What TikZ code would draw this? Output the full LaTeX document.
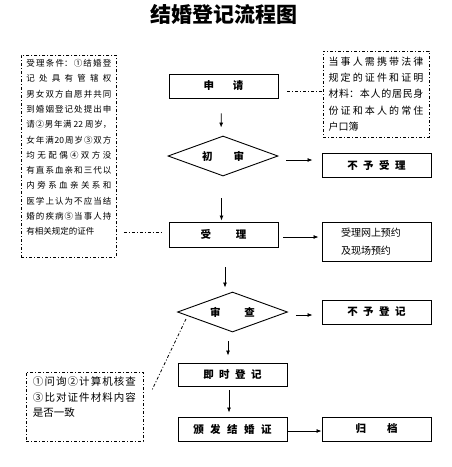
\documentclass[tikz,border=0pt]{standalone}
\usepackage{fontspec}
\setmainfont{Noto Sans CJK SC}
\usetikzlibrary{shapes.geometric,arrows.meta}
\XeTeXlinebreaklocale "zh"
\XeTeXlinebreakskip=0pt plus 6pt
\newcommand{\gp}{\hspace{5.5pt}}
\tikzset{
  box/.style={draw, line width=0.9pt, minimum width=109pt, minimum height=24pt, inner sep=0pt, font=\bfseries\fontsize{10.5}{12}\selectfont},
  dia/.style={draw, diamond, aspect=2.7, line width=0.9pt, minimum width=110pt, minimum height=40pt, inner sep=0pt, font=\bfseries\fontsize{10.5}{12}\selectfont},
  ddline/.style={line width=0.8pt, dash pattern=on 3pt off 2pt on 1pt off 2pt},
  note/.style={draw, ddline},
  arr/.style={-{Latex[length=5pt,width=4pt]}, line width=0.8pt},
}
\begin{document}
\begin{tikzpicture}[x=1pt,y=-1pt]
\useasboundingbox (0,0) rectangle (451,467);
\node[font=\bfseries\fontsize{21}{24}\selectfont] (title) at (224,14.5) {结婚登记流程图};

\node[note, anchor=north west, inner xsep=5pt, inner ysep=0pt] (lbox) at (21,55)
 {\parbox[c][202pt][t]{85pt}{\vspace{4pt}\fontsize{8.5}{15.3}\selectfont
 受理条件：①结婚登\linebreak
 记处具有管辖权\linebreak
 男女双方自愿并共同\linebreak
 到婚姻登记处提出申\linebreak
 请②男年满 22 周岁，\linebreak
 女年满20周岁③双方\linebreak
 均无配偶 ④双方没\linebreak
 有直系血亲和三代以\linebreak
 内旁系血亲关系和\linebreak
 医学上认为不应当结\linebreak
 婚的疾病⑤当事人持\linebreak
 有相关规定的证件}};

\node[note, minimum width=106pt, minimum height=86pt, inner xsep=5.5pt, text width=95pt, align=justify, font=\fontsize{10}{16.3}\selectfont] (rtbox) at (376,94)
 {当事人需携带法律\linebreak 规定的证件和证明\linebreak 材料：本人的居民身\linebreak 份证和本人的常住\linebreak 户口簿};

\node[box] (apply) at (223.5,86) {申\hspace{19pt}请};
\node[dia] (chushen) at (223,156) {初\hspace{21pt}审};
\node[box] (bslb1) at (376.5,165) {不\gp 予\gp 受\gp 理};
\node[box, minimum height=25pt] (accept) at (223.5,234.5) {受\hspace{25pt}理};
\node[box, minimum height=39pt, font=\fontsize{10}{18}\selectfont, text width=71pt, align=left] (yuyue) at (376.5,241.5) {受理网上预约\\及现场预约};
\node[dia] (shencha) at (232.5,312) {审\hspace{24pt}查};
\node[box] (bydj) at (376.5,312) {不\gp 予\gp 登\gp 记};
\node[box, minimum height=23pt] (jsdj) at (232.5,374.5) {即\gp 时\gp 登\gp 记};
\node[box] (bf) at (232.5,429) {颁\hspace{6.5pt}发\hspace{6.5pt}结\hspace{6.5pt}婚\hspace{6.5pt}证};
\node[box] (gd) at (376.5,429) {归\hspace{21pt}档};

\node[note, inner xsep=7pt, inner ysep=0pt] (lbbox) at (84.5,406.5)
 {\parbox[c][69pt][t]{103pt}{\vspace{5pt}\fontsize{10.5}{15.5}\selectfont
 ①问询②计算机核查\linebreak
 ③比对证件材料内容\linebreak
 是否一致}};

\coordinate (d1) at (186,319);
\coordinate (d2) at (152,390);

\draw[arr, shorten <=15pt, shorten >=8pt] ([xshift=-2pt]apply.south) -- ([xshift=-2pt]chushen.north);
\draw[arr, shorten <=8pt, shorten >=9pt] ([yshift=-4pt]chushen.east) -- ([yshift=-4pt]chushen.east -| bslb1.west);
\draw[arr, shorten <=22pt, shorten >=1pt] ([xshift=-1.5pt]chushen.south) -- ([xshift=-1.5pt]chushen.south |- accept.north);
\draw[arr, shorten <=5pt, shorten >=3pt] ([yshift=-2.5pt]accept.east) -- ([yshift=-2.5pt]accept.east -| yuyue.west);
\draw[arr, shorten <=20pt, shorten >=4pt] ([xshift=1.5pt]accept.south) -- ([xshift=1.5pt]accept.south |- shencha.north);
\draw[arr, shorten <=8pt, shorten >=9pt] ([yshift=-3pt]shencha.east) -- ([yshift=-3pt]shencha.east -| bydj.west);
\draw[arr, shorten <=9pt, shorten >=7pt] ([xshift=-4.5pt]shencha.south) -- ([xshift=-4.5pt]shencha.south |- jsdj.north);
\draw[arr, shorten <=4pt, shorten >=4pt] ([xshift=-3.5pt]jsdj.south) -- ([xshift=-3.5pt]jsdj.south |- bf.north);
\draw[arr] ([yshift=-2pt]bf.east) -- ([yshift=-2pt]bf.east -| gd.west);
\draw[ddline, shorten <=9pt] ([yshift=-5pt]apply.east) -- ([yshift=-5pt]apply.east -| rtbox.west);
\draw[ddline, shorten <=7pt, shorten >=7pt] ([yshift=2.5pt]accept.west -| lbox.east) -- ([yshift=2.5pt]accept.west);
\draw[ddline] (d1) -- (d2);
\end{tikzpicture}
\end{document}
